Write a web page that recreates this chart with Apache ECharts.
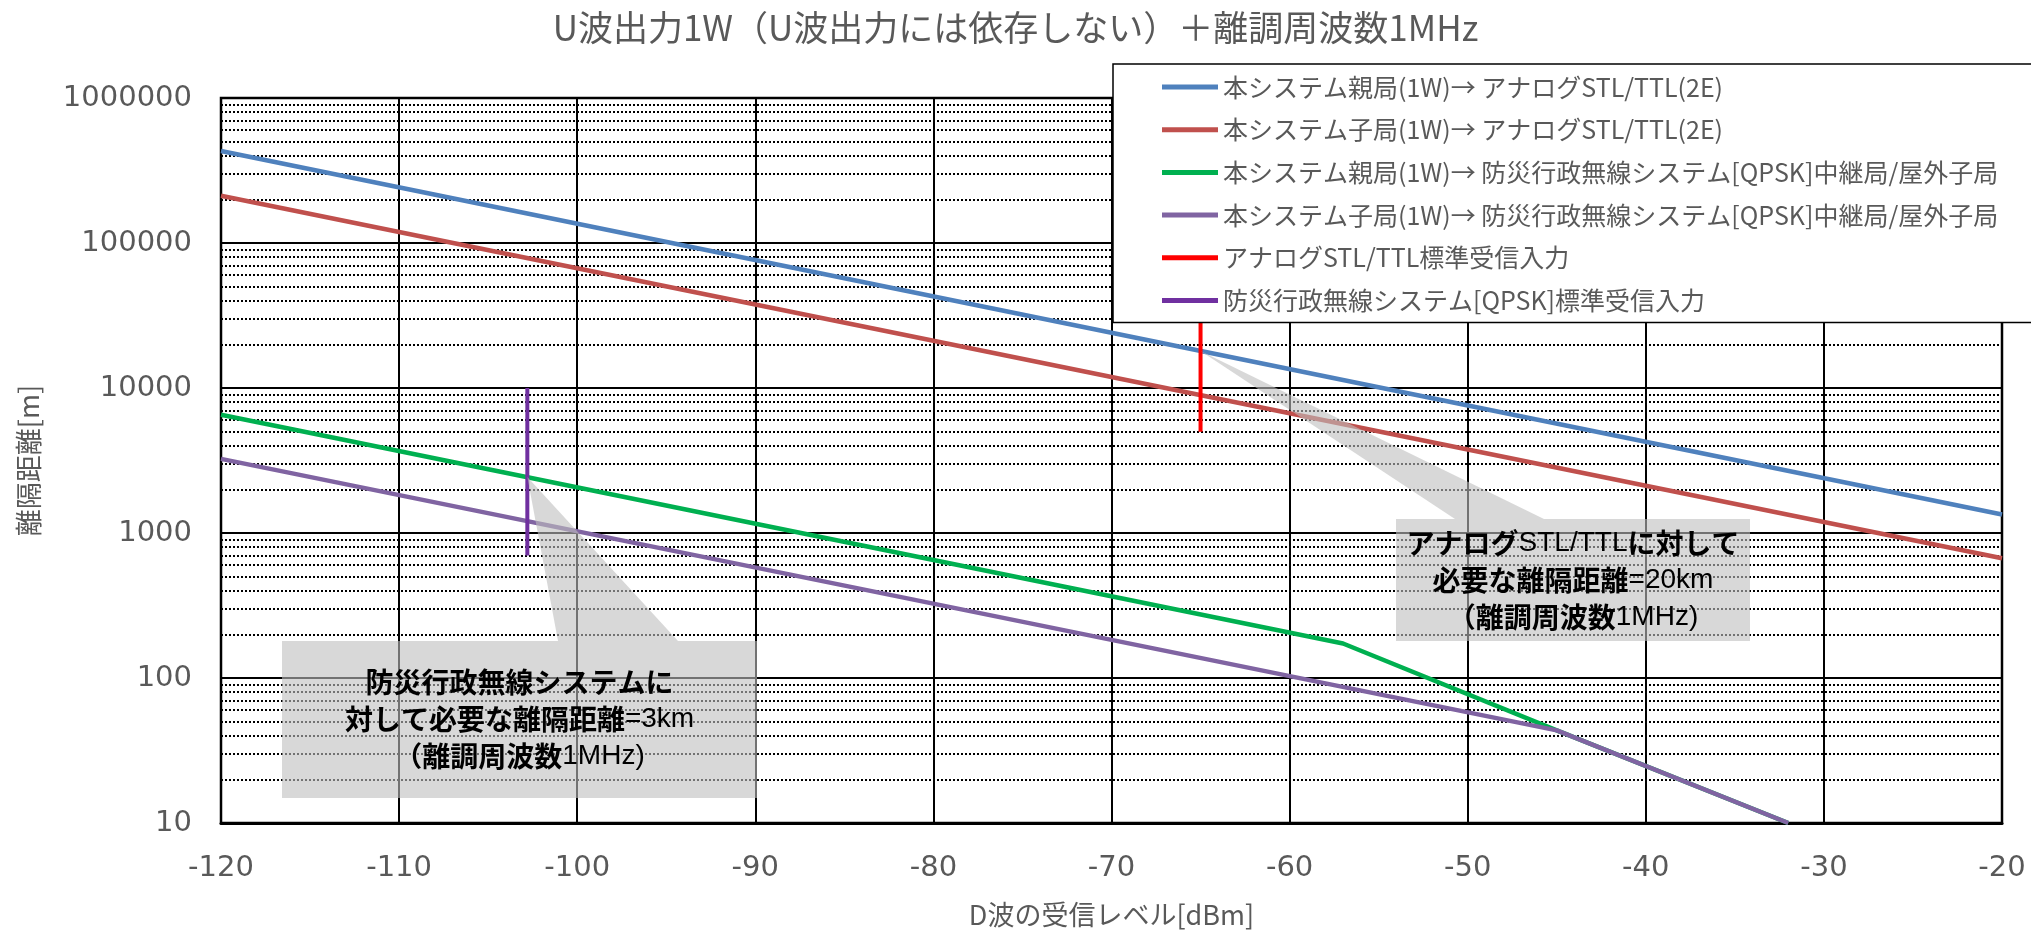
<!DOCTYPE html>
<html>
<head>
<meta charset="utf-8">
<script src="https://cdn.jsdelivr.net/npm/echarts@6/dist/echarts.min.js"></script>
<style>
  html, body { margin: 0; padding: 0; background: #fff; }
  #chart { width: 2031px; height: 935px; }
</style>
</head>
<body>
<div id="chart"></div>
<script>
// D波の受信レベル [dBm] に対する所要離隔距離 [m]（対数軸）
const parentToAnalog = [[-120, 431000], [-20, 1340]];
const childToAnalog  = [[-120, 212000], [-20, 670]];
const parentToBousai = [[-120, 6540], [-57, 173], [-45, 43.5], [-32, 10]];
const childToBousai  = [[-120, 3245], [-45, 43.5], [-32, 10]];

// 標準受信入力（縦線）
const analogStdInput = [[-65, 5000], [-65, 50000]];
const bousaiStdInput = [[-102.8, 700], [-102.8, 10000]];

const seriesNames = [
  '本システム親局(1W)→ アナログSTL/TTL(2E)',
  '本システム子局(1W)→ アナログSTL/TTL(2E)',
  '本システム親局(1W)→ 防災行政無線システム[QPSK]中継局/屋外子局',
  '本システム子局(1W)→ 防災行政無線システム[QPSK]中継局/屋外子局',
  'アナログSTL/TTL標準受信入力',
  '防災行政無線システム[QPSK]標準受信入力'
];

// 軸目盛
const xMin = -120, xMax = -20, xStep = 10;
const yDecades = [10, 100, 1000, 10000, 100000, 1000000];
const minorMultipliers = [2, 3, 4, 5, 6, 7, 8, 9];

// 注記（矢印の先端 = [dBm, m]）
const bousaiNote = {
  anchor: [-102.8, 2430],
  lines: ['防災行政無線システムに', '対して必要な離隔距離=3km', '（離調周波数1MHz)']
};
const analogNote = {
  anchor: [-65, 18000],
  lines: ['アナログSTL/TTLに対して', '必要な離隔距離=20km', '（離調周波数1MHz)']
};

const colors = ['#4F81BD', '#C0504D', '#00B050', '#8064A2', '#FF0000', '#7030A0'];
const CJK = '"Noto Sans CJK JP", "Noto Sans", sans-serif';
const NUM = '"DejaVu Sans", sans-serif';
const GREY = '#595959';

// 補助目盛線 (2〜9 × 10^n)
const minorLines = [];
yDecades.slice(0, -1).forEach(d => minorMultipliers.forEach(m => minorLines.push({ yAxis: d * m })));

const dataSets = [parentToAnalog, childToAnalog, parentToBousai, childToBousai, analogStdInput, bousaiStdInput];

const chart = echarts.init(document.getElementById('chart'), null, { renderer: 'canvas' });

const series = dataSets.map((d, i) => ({
  name: seriesNames[i],
  type: 'line',
  data: d,
  symbol: 'none',
  z: 3,
  lineStyle: { color: colors[i], width: i >= 4 ? 4 : 4.5 },
  itemStyle: { color: colors[i] },
  emphasis: { disabled: true }
}));

series.unshift({
  name: 'minor-grid',
  type: 'line',
  data: [],
  z: 1,
  silent: true,
  markLine: {
    z: 1,
    silent: true,
    symbol: 'none',
    label: { show: false },
    lineStyle: { color: '#000', width: 2, type: [2, 2] },
    emphasis: { disabled: true },
    data: minorLines
  }
});

chart.setOption({
  animation: false,
  backgroundColor: '#fff',
  title: {
    text: 'U波出力1W（U波出力には依存しない）＋離調周波数1MHz',
    left: 'center',
    top: 10,
    padding: 0,
    textStyle: { fontFamily: CJK, fontSize: 35, fontWeight: 'normal', color: GREY }
  },
  grid: {
    left: 221, top: 98, width: 1781, height: 725,
    show: true, borderColor: '#000', borderWidth: 2.5, backgroundColor: '#fff',
    containLabel: false,
    outerBoundsMode: 'none'
  },
  legend: {
    data: seriesNames,
    orient: 'vertical',
    left: 1113,
    top: 64,
    padding: [10, 80, 9, 49],
    itemGap: 16.7,
    icon: 'rect',
    itemWidth: 56,
    itemHeight: 5,
    backgroundColor: '#fff',
    borderColor: '#000',
    borderWidth: 1.5,
    borderRadius: 0,
    selectedMode: false,
    z: 10,
    textStyle: { fontFamily: CJK, fontSize: 25, color: GREY, lineHeight: 26 }
  },
  xAxis: {
    type: 'value',
    min: xMin, max: xMax, interval: xStep,
    axisLine: { show: true, onZero: false, lineStyle: { color: '#000', width: 3 } },
    axisTick: { show: false },
    splitLine: { show: true, lineStyle: { color: '#000', width: 2 } },
    axisLabel: { fontFamily: NUM, fontSize: 29, color: GREY, margin: 31 },
    name: 'D波の受信レベル[dBm]',
    nameLocation: 'middle',
    nameGap: 78,
    nameTextStyle: { fontFamily: CJK, fontSize: 27, color: GREY }
  },
  yAxis: {
    type: 'log', logBase: 10,
    min: yDecades[0], max: yDecades[yDecades.length - 1],
    splitNumber: yDecades.length - 1,
    axisLine: { show: true, lineStyle: { color: '#000', width: 2 } },
    axisTick: { show: false },
    splitLine: { show: true, lineStyle: { color: '#000', width: 2 } },
    axisLabel: {
      fontFamily: NUM, fontSize: 29, color: GREY, margin: 29,
      formatter: v => String(Math.round(v))
    },
    name: '離隔距離[m]',
    nameLocation: 'middle',
    nameRotate: 90,
    nameGap: 179,
    nameTextStyle: { fontFamily: CJK, fontSize: 27, color: GREY }
  },
  series: series
});

// 注記吹き出し（半透明の灰色ボックス + 先端）
function noteRich(lines) {
  return lines.map(line =>
    line.split(/([\x20-\x7E]+)/).filter(s => s.length).map(s =>
      /^[\x20-\x7E]+$/.test(s) ? '{n|' + s + '}' : '{b|' + s + '}'
    ).join('')
  ).join('\n');
}

function callout(note, box, base) {
  const tip = chart.convertToPixel({ gridIndex: 0 }, note.anchor);
  const [bx, by, bw, bh] = box;
  return {
    type: 'group',
    z: 50,
    children: [
      {
        type: 'polygon',
        z: 50,
        silent: true,
        shape: {
          points: [
            [bx, by], [base[0], by], tip, [base[1], by],
            [bx + bw, by], [bx + bw, by + bh], [bx, by + bh]
          ]
        },
        style: { fill: 'rgba(190,190,190,0.6)', stroke: null }
      },
      {
        type: 'text',
        z: 51,
        silent: true,
        x: bx + bw / 2,
        y: by + bh / 2,
        style: {
          text: noteRich(note.lines),
          align: 'center',
          verticalAlign: 'middle',
          lineHeight: 37,
          rich: {
            b: { fontFamily: CJK, fontWeight: 'bold', fontSize: 28, color: '#000', lineHeight: 37 },
            n: { fontFamily: '"Liberation Sans", Arial, sans-serif', fontWeight: 'normal', fontSize: 28, color: '#000', lineHeight: 37 }
          }
        }
      }
    ]
  };
}

chart.setOption({
  graphic: [
    callout(bousaiNote, [282, 641, 475, 157], [558, 678]),
    callout(analogNote, [1396, 519, 354, 122], [1455, 1544])
  ]
});
</script>
</body>
</html>
